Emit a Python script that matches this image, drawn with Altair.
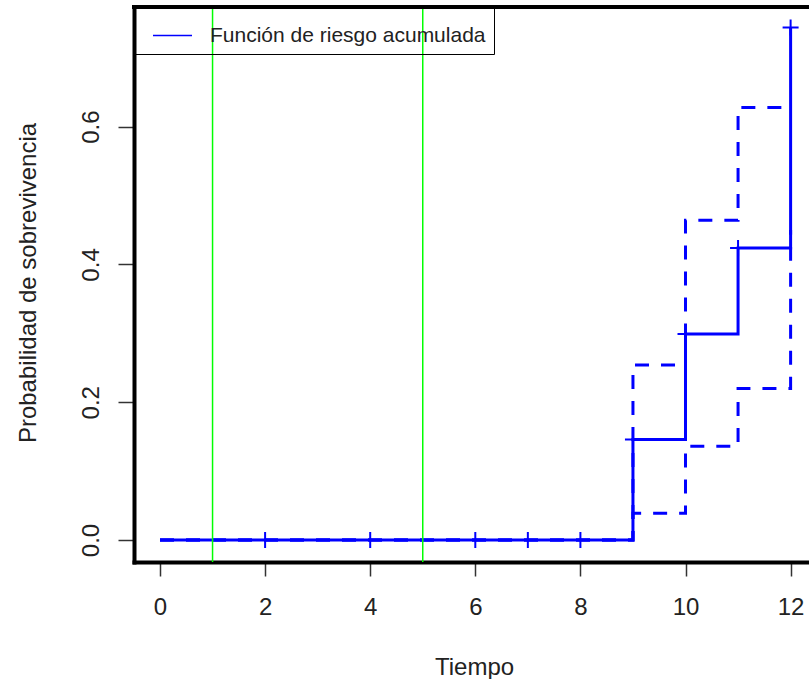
import altair as alt
import pandas as pd

# Cumulative hazard estimate (step function) with its confidence band
times = [0, 9, 10, 11, 12]
cumhaz = [0.0, 0.146, 0.299, 0.424, 0.744]
upper = [0.0, 0.254, 0.464, 0.628, 0.628]
lower = [0.0, 0.039, 0.136, 0.220, 0.450]

# Censored observations marked on the curve
censor_times = [2, 4, 6, 7, 8, 9, 10, 11, 12]
censor_vals = [0.0, 0.0, 0.0, 0.0, 0.0, 0.146, 0.299, 0.424, 0.744]

# Reference times drawn as vertical lines
ref_lines = [1, 5]

x_ticks = [0, 2, 4, 6, 8, 10, 12]
y_ticks = [0.0, 0.2, 0.4, 0.6]
legend_label = "Función de riesgo acumulada"

FONT = "Liberation Sans"
BLUE = "#0000FF"
W, H = 675, 555

curve = pd.DataFrame({"t": times, "h": cumhaz, "serie": legend_label})
band = pd.DataFrame({"t": times, "hi": upper, "lo": lower})
cens = pd.DataFrame({"t": censor_times, "h": censor_vals})
refs = pd.DataFrame({"t": ref_lines})

x_scale = alt.Scale(domain=[-0.4948, 12.35], nice=False, zero=False)
y_scale = alt.Scale(domain=[-0.0319, 0.7737], nice=False, zero=False)

x_axis = alt.Axis(
    values=x_ticks, format="d", title="Tiempo", grid=False,
    tickSize=14, labelPadding=38, labelBaseline="alphabetic",
    titleX=340, titleY=112, titleAlign="center", titleBaseline="alphabetic",
)
y_axis = alt.Axis(
    values=y_ticks, format=".1f", title="Probabilidad de sobrevivencia", grid=False,
    tickSize=16, labelPadding=20, labelAngle=270, labelAlign="center",
    labelBaseline="alphabetic",
    titleX=-99, titleY=275.5, titleAngle=270, titleAlign="center",
    titleBaseline="alphabetic",
)

x_enc = alt.X("t:Q", scale=x_scale, axis=x_axis)

main = alt.Chart(curve).mark_line(interpolate="step-after", strokeWidth=3).encode(
    x=x_enc,
    y=alt.Y("h:Q", scale=y_scale, axis=y_axis),
    color=alt.Color(
        "serie:N",
        scale=alt.Scale(domain=[legend_label], range=[BLUE]),
        legend=alt.Legend(
            title=None, orient="none", legendX=-1, legendY=0,
            strokeColor="black", padding=8, symbolOffset=11,
            symbolType="stroke", symbolSize=1521, symbolStrokeWidth=1.5,
            labelFont=FONT, labelFontSize=21, labelColor="#222",
            labelOffset=17, labelLimit=400,
        ),
    ),
)

dash = dict(interpolate="step-after", strokeWidth=3, color=BLUE, strokeDash=[14, 12])
upper_line = alt.Chart(band).mark_line(**dash).encode(
    x=alt.X("t:Q", scale=x_scale), y=alt.Y("hi:Q", scale=y_scale)
)
lower_line = alt.Chart(band).mark_line(**dash).encode(
    x=alt.X("t:Q", scale=x_scale), y=alt.Y("lo:Q", scale=y_scale)
)

marks = alt.Chart(cens).mark_point(
    shape="M-1,0H1M0,-1V1", size=256, filled=False, strokeWidth=2, color=BLUE, opacity=1
).encode(x=alt.X("t:Q", scale=x_scale), y=alt.Y("h:Q", scale=y_scale))

vlines = alt.Chart(refs).mark_rule(color="#00FF00", strokeWidth=1.5).encode(
    x=alt.X("t:Q", scale=x_scale)
)

top_border = alt.Chart(refs).mark_rule(color="black", strokeWidth=4, strokeCap="square").encode(
    x=alt.value(0), x2=alt.value(W), y=alt.value(0)
)

chart = (
    alt.layer(lower_line, upper_line, main, marks, vlines, top_border)
    .properties(
        width=W, height=H,
        background="white",
        autosize=alt.AutoSizeParams(type="none"),
        padding={"left": 134, "top": 7, "right": 0, "bottom": 117},
    )
    .configure_view(strokeWidth=0)
    .configure_axis(
        domainColor="black", domainWidth=4, domainCap="square",
        tickColor="#333", tickWidth=1.5,
        labelFont=FONT, labelFontSize=24, labelColor="#222",
        titleFont=FONT, titleFontSize=24, titleColor="#222", titleFontWeight="normal",
    )
)

chart.save("out.html", embed_options={"renderer": "svg", "actions": False})
